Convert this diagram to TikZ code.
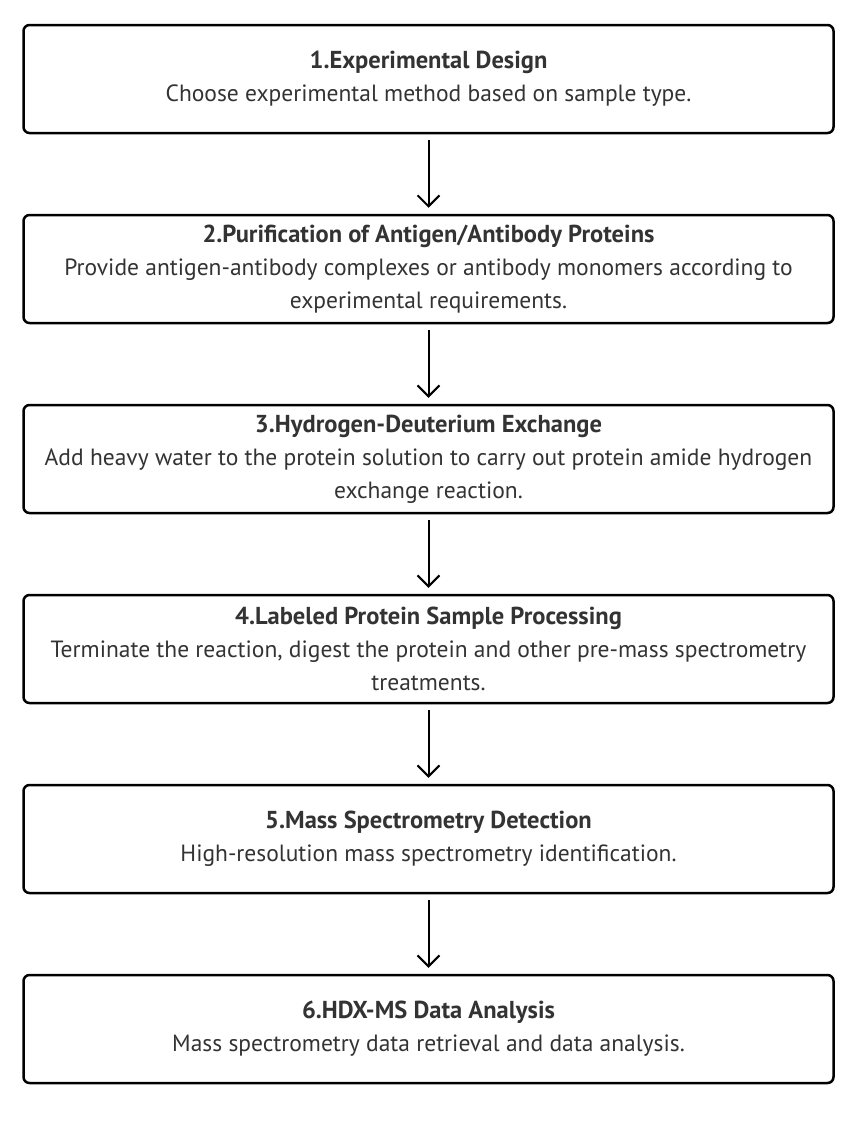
\documentclass[tikz,border=0pt]{standalone}
\usepackage{fontspec}
\setmainfont{PT Sans}
\usepackage{xcolor}
\usetikzlibrary{arrows.meta, positioning}
\definecolor{txtgray}{HTML}{333333}
\newcommand{\steptitle}[1]{{\fontsize{24.5}{33}\selectfont\bfseries #1}}

\begin{document}
\begin{tikzpicture}[x=1pt, y=1pt,
    stepbox/.style={draw=black, line width=2.5pt, rounded corners=6pt, fill=white,
      minimum width=810pt, minimum height=108pt, inner sep=0pt, align=center,
      text=txtgray, font=\fontsize{23.5}{33}\selectfont},
    flow/.style={draw=black, line width=2pt, -{Straight Barb[length=11pt, width=22pt]},
      shorten <=6pt, shorten >=6pt}
  ]
  \useasboundingbox (0,0) rectangle (856,-1130);
  % The six steps
  \node[stepbox] (design) at (428.5,-79) {\steptitle{1.Experimental Design}\\
    Choose experimental method based on sample type.};
  \node[stepbox] (purify) at (428.5,-269) {\steptitle{2.Purification of Antigen/Antibody Proteins}\\
    Provide antigen-antibody complexes or antibody monomers according to\\
    experimental requirements.};
  \node[stepbox] (exchange) at (428.5,-459) {\steptitle{3.Hydrogen-Deuterium Exchange}\\
    Add heavy water to the protein solution to carry out protein amide hydrogen\\
    exchange reaction.};
  \node[stepbox] (process) at (428.5,-649) {\steptitle{4.Labeled Protein Sample Processing}\\
    Terminate the reaction, digest the protein and other pre-mass spectrometry\\
    treatments.};
  \node[stepbox] (detect) at (428.5,-839) {\steptitle{5.Mass Spectrometry Detection}\\
    High-resolution mass spectrometry identification.};
  \node[stepbox] (analysis) at (428.5,-1029) {\steptitle{6.HDX-MS Data Analysis}\\
    Mass spectrometry data retrieval and data analysis.};
  % Arrows between the steps
  \draw[flow] (design) -- (purify);
  \draw[flow] (purify) -- (exchange);
  \draw[flow] (exchange) -- (process);
  \draw[flow] (process) -- (detect);
  \draw[flow] (detect) -- (analysis);
\end{tikzpicture}
\end{document}
